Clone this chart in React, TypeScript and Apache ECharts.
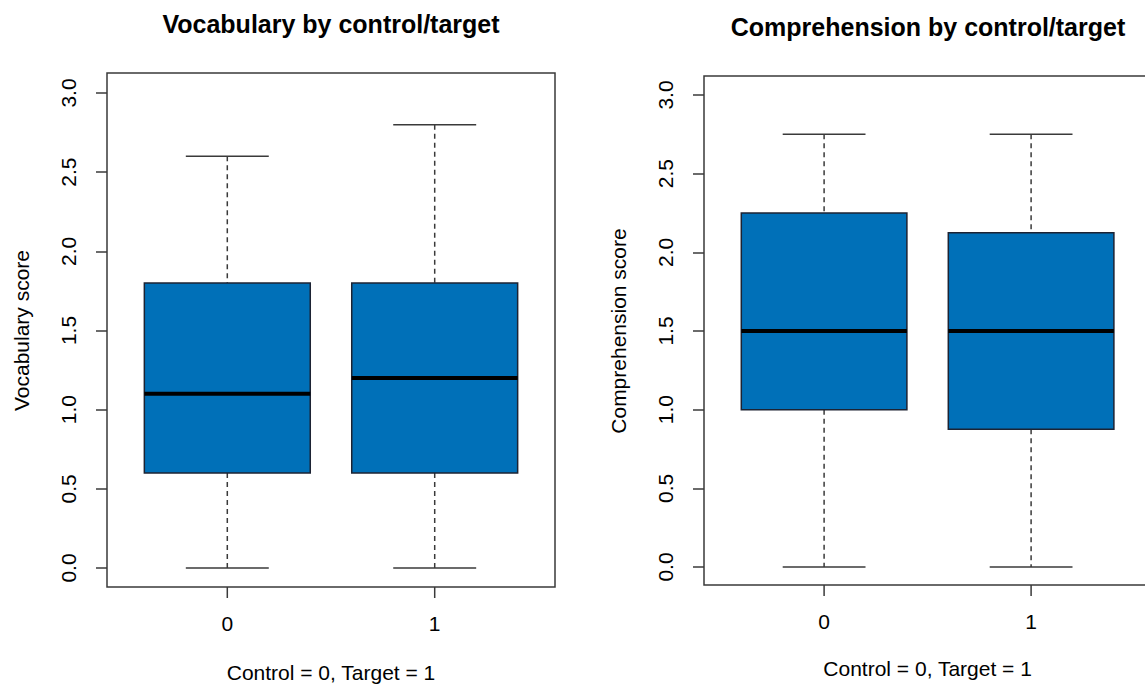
import React, { useEffect, useRef } from "react";
import * as echarts from "echarts";

// ---- data ----
const categories = ["0", "1"];
// [min, q1, median, q3, max] per group
const vocabularyStats = [
  [0, 0.6, 1.1, 1.8, 2.6],
  [0, 0.6, 1.2, 1.8, 2.8],
];
const comprehensionStats = [
  [0, 1.0, 1.5, 2.25, 2.75],
  [0, 0.875, 1.5, 2.125, 2.75],
];
const yMin = 0;
const yMax = 3;
const yStep = 0.5;

const titles = ["Vocabulary by control/target", "Comprehension by control/target"];
const yNames = ["Vocabulary score", "Comprehension score"];
const xName = "Control = 0, Target = 1";

const FONT = "Liberation Sans, Arial, Helvetica, sans-serif";
const BOX_FILL = "#0070B8";
const LINE = "#3a3a3a";
const TICK_LEN = 11;

const makeRenderBox = (axisOffset: number) => (params: any, api: any) => {
  const idx = api.value(0);
  const vmin = api.value(1);
  const q1 = api.value(2);
  const med = api.value(3);
  const q3 = api.value(4);
  const vmax = api.value(5);
  const band = api.size([1, 0])[0];
  const pMin = api.coord([idx, vmin]);
  const pQ1 = api.coord([idx, q1]);
  const pMed = api.coord([idx, med]);
  const pQ3 = api.coord([idx, q3]);
  const pMax = api.coord([idx, vmax]);
  const cx = pMin[0];
  const bw = band * 0.8;
  const cw = band * 0.4;
  const cs = params.coordSys;
  const axisY = cs.y + cs.height + axisOffset;
  const dash = { stroke: LINE, lineWidth: 1.5, lineDash: [5, 4] };
  const solid = { stroke: LINE, lineWidth: 1.5 };
  return {
    type: "group",
    children: [
      { type: "line", shape: { x1: cx, y1: pMax[1], x2: cx, y2: pQ3[1] }, style: dash },
      { type: "line", shape: { x1: cx, y1: pQ1[1], x2: cx, y2: pMin[1] }, style: dash },
      { type: "line", shape: { x1: cx - cw / 2, y1: pMax[1], x2: cx + cw / 2, y2: pMax[1] }, style: solid },
      { type: "line", shape: { x1: cx - cw / 2, y1: pMin[1], x2: cx + cw / 2, y2: pMin[1] }, style: solid },
      {
        type: "rect",
        shape: { x: cx - bw / 2, y: pQ3[1], width: bw, height: pQ1[1] - pQ3[1] },
        style: { fill: BOX_FILL, stroke: "#1c2333", lineWidth: 1.5 },
      },
      {
        type: "line",
        shape: { x1: cx - bw / 2, y1: pMed[1], x2: cx + bw / 2, y2: pMed[1] },
        style: { stroke: "#000", lineWidth: 4 },
      },
      // category tick below the frame (R style)
      { type: "line", shape: { x1: cx, y1: axisY, x2: cx, y2: axisY + TICK_LEN }, style: solid },
    ],
  };
};

// layout of each panel (frame box and inner plotting area)
const panels = [
  { frame: { x: 107, y: 73, w: 448, h: 514 }, inner: { left: 123.6, top: 93, width: 414.8, height: 475 }, titleTop: 11, xNameGap: 75 },
  { frame: { x: 704, y: 76, w: 448, h: 509 }, inner: { left: 720.6, top: 95, width: 414, height: 472 }, titleTop: 14, xNameGap: 73 },
];

export default function App() {
  const ref = useRef<HTMLDivElement>(null);
  useEffect(() => {
    if (!ref.current) return;
    const chart = echarts.init(ref.current, null, { renderer: "svg" });
    const statsList = [vocabularyStats, comprehensionStats];

    const grids = panels.map((p) => ({ ...p.inner, containLabel: false, outerBoundsMode: "none" }));
    const offsets = panels.map((p) => p.frame.y + p.frame.h - (p.inner.top + p.inner.height));
    const xAxes = panels.map((p, i) => ({
      type: "category",
      gridIndex: i,
      data: categories,
      boundaryGap: true,
      offset: offsets[i],
      axisLine: { show: false },
      axisTick: { show: false },
      axisLabel: { fontSize: 21, color: "#000", fontFamily: FONT, margin: 26 },
      splitLine: { show: false },
      name: xName,
      nameLocation: "middle",
      nameGap: p.xNameGap,
      nameTextStyle: { fontSize: 21, color: "#000", fontFamily: FONT },
    }));
    const yAxes = panels.map((p, i) => ({
      type: "value",
      gridIndex: i,
      min: yMin,
      max: yMax,
      interval: yStep,
      offset: p.inner.left - p.frame.x,
      axisLine: { show: false },
      axisTick: { show: true, length: TICK_LEN, lineStyle: { color: LINE, width: 1.5 } },
      axisLabel: {
        rotate: 90,
        fontSize: 21,
        color: "#000",
        fontFamily: FONT,
        margin: 28,
        formatter: (v: number) => v.toFixed(1),
      },
      splitLine: { show: false },
      name: yNames[i],
      nameLocation: "middle",
      nameGap: 75,
      nameTextStyle: { fontSize: 21, color: "#000", fontFamily: FONT },
    }));

    const series = statsList.map((stats, i) => ({
      type: "custom",
      xAxisIndex: i,
      yAxisIndex: i,
      renderItem: makeRenderBox(offsets[i]),
      encode: { x: 0, y: [1, 2, 3, 4, 5] },
      data: stats.map((s, j) => [j, ...s]),
      clip: false,
    }));

    chart.setOption({
      animation: false,
      backgroundColor: "#fff",
      title: panels.map((p, i) => ({
        text: titles[i],
        left: p.frame.x + p.frame.w / 2,
        top: p.titleTop,
        textAlign: "center",
        padding: 0,
        textStyle: { fontSize: 25, fontWeight: "bold", color: "#000", fontFamily: FONT },
      })),
      grid: grids,
      xAxis: xAxes,
      yAxis: yAxes,
      series,
      graphic: panels.map((p) => ({
        type: "rect",
        shape: { x: p.frame.x, y: p.frame.y, width: p.frame.w, height: p.frame.h },
        style: { fill: "none", stroke: LINE, lineWidth: 1.5 },
        silent: true,
      })),
    });
    return () => chart.dispose();
  }, []);
  return (
    <div
      ref={ref}
      style={{ position: "absolute", left: 0, top: 0, width: 1145, height: 684, background: "#fff" }}
    />
  );
}
